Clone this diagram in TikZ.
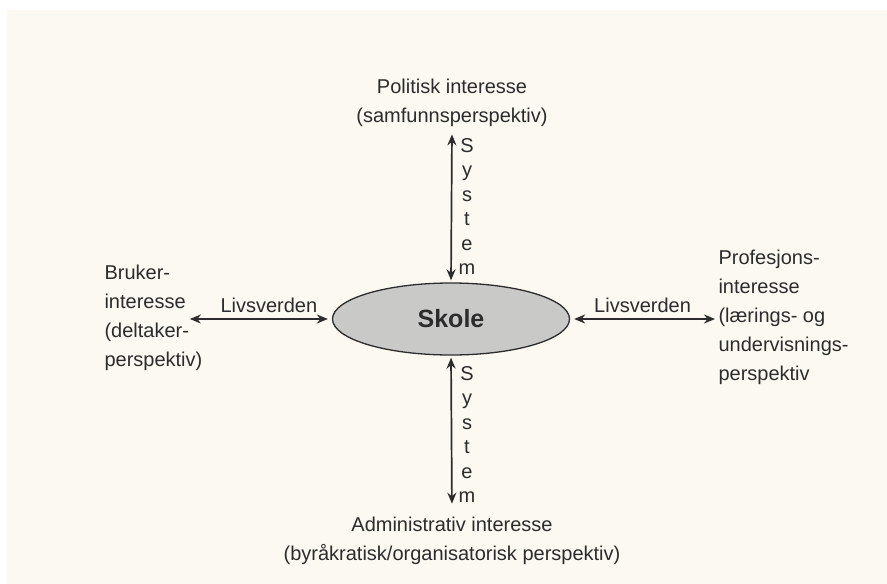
\documentclass[tikz,border=0pt]{standalone}
\usepackage{fontspec}
\setmainfont{Liberation Sans}
\usepackage{xcolor}
\definecolor{Ink}{HTML}{2C2C2C}
\definecolor{Cream}{HTML}{FBF9F1}
\definecolor{Shade}{HTML}{C9C9C7}
\colorlet{ink}{Ink}
\colorlet{cream}{Cream}
\colorlet{shade}{Shade}
\usepackage{tikz}
\usetikzlibrary{arrows.meta,positioning,shapes.geometric}

\begin{document}
\begin{tikzpicture}[x=1pt,y=-1pt,every node/.style={font=\fontsize{20}{29}\selectfont,text=ink},
  link/.style={{Stealth[length=11pt,width=9pt]}-{Stealth[length=11pt,width=9pt]},draw=ink,line width=1.7pt}]
\useasboundingbox (0,0) rectangle (887,584);
\fill[white] (0,0) rectangle (887,584);
\fill[cream] (7,10) rectangle (887,584);
\node[ellipse,draw=ink,line width=1.3pt,fill=shade,minimum width=237pt,minimum height=72pt,font=\fontsize{25}{30}\selectfont\bfseries] (skole) at (451,319) {Skole};
\node[align=center] (politisk) at (452,103) {Politisk interesse\\(samfunnsperspektiv)};
\node[align=center] (admin) at (452,541) {Administrativ interesse\\(byråkratisk/organisatorisk perspektiv)};
\node[align=left,anchor=west] (bruker) at (101,318) {Bruker-\\interesse\\(deltaker-\\perspektiv)};
\node[align=left,anchor=west] (prof) at (715,317) {Profesjons-\\interesse\\(lærings- og\\undervisnings-\\perspektiv};
\draw[link,shorten <=-16pt,shorten >=4pt] (bruker.east |- skole.west) -- node[above=2pt] (lv1) {Livsverden} (skole.west);
\draw[link,shorten <=4pt] (skole.east) -- node[above=2pt] (lv2) {Livsverden} (prof.west |- skole.east);
\draw[link,shorten <=4pt,shorten >=2pt] (politisk.south) -- node[right=3pt,align=center,font=\fontsize{20}{24.5}\selectfont] (sys1) {S\\y\\s\\t\\e\\m} (skole.north);
\draw[link,shorten <=2pt,shorten >=10pt] (skole.south) -- node[right=3pt,align=center,font=\fontsize{20}{24.5}\selectfont] (sys2) {S\\y\\s\\t\\e\\m} (admin.north);
\end{tikzpicture}
\end{document}
